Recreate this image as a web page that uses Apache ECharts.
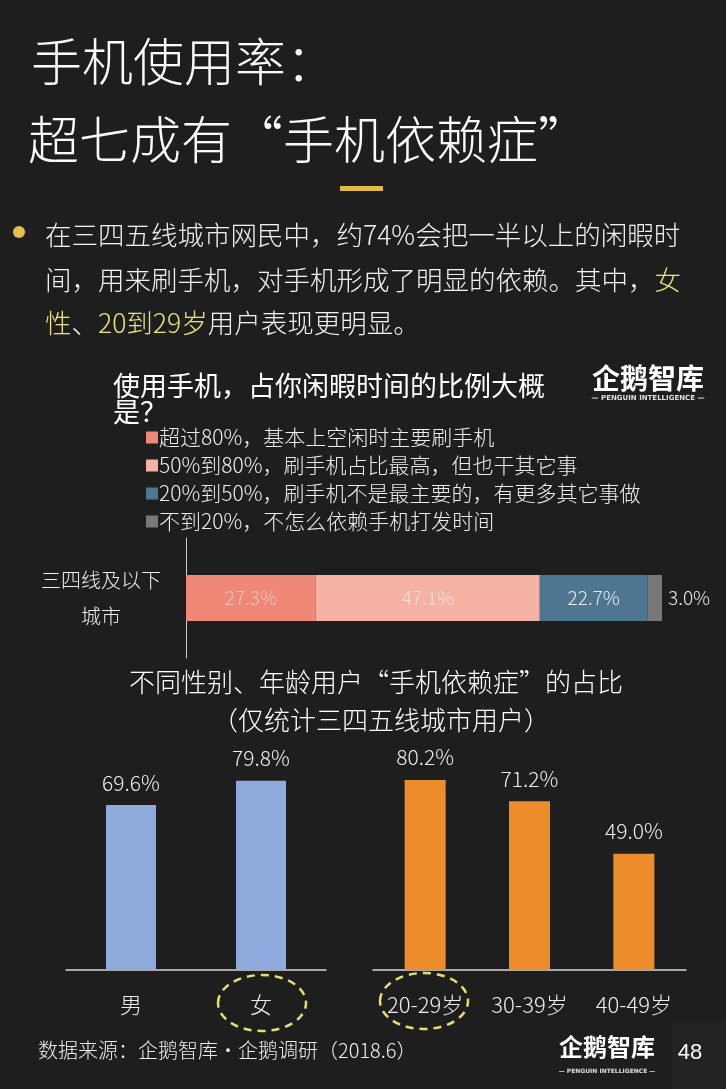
<!DOCTYPE html>
<html>
<head>
<meta charset="utf-8">
<title>手机使用率</title>
<script src="https://cdn.jsdelivr.net/npm/echarts@6/dist/echarts.min.js"></script>
<style>
    html, body { margin: 0; padding: 0; background: #1e1e1e; }
    #main { width: 726px; height: 1089px; }
</style>
</head>
<body>
<div id="main"></div>
<script>
    // 闲暇时间占比（堆叠条）
    var shareCategory = ["三四线及以下\n城市"];
    var shareNames = [
        "超过80%，基本上空闲时主要刷手机",
        "50%到80%，刷手机占比最高，但也干其它事",
        "20%到50%，刷手机不是最主要的，有更多其它事做",
        "不到20%，不怎么依赖手机打发时间"
    ];
    var shareValues = [27.3, 47.1, 22.7, 3.0];
    var shareColors = ["#f08878", "#f6b1a5", "#4e7691", "#787878"];
    var shareLabelColors = ["#f9c6ba", "#fbe0d8", "#e4eef5", "#e8e8e8"];

    // 手机依赖症占比
    var genderCategories = ["男", "女"];
    var genderValues = [69.6, 79.8];
    var ageCategories = ["20-29岁", "30-39岁", "40-49岁"];
    var ageValues = [80.2, 71.2, 49.0];

    var FONT = "Noto Sans CJK SC";
    var TXT = "#eeeeee";

    var chart = echarts.init(document.getElementById("main"));

    var shareTotal = 0;
    for (var i = 0; i < shareValues.length; i++) {
        shareTotal += shareValues[i];
    }

    var series = [];
    for (var k = 0; k < shareNames.length; k++) {
        series.push({
            name: shareNames[k],
            type: "bar",
            stack: "share",
            xAxisIndex: 0,
            yAxisIndex: 0,
            barWidth: 46,
            data: [shareValues[k]],
            itemStyle: {color: shareColors[k]},
            label: {
                show: true,
                position: k === shareNames.length - 1 ? "right" : "inside",
                distance: 6,
                color: shareLabelColors[k],
                fontSize: 19,
                fontFamily: FONT,
                fontWeight: 300,
                formatter: function (p) {
                    return p.value.toFixed(1) + "%";
                }
            }
        });
    }

    function dependBar(name, idx, values, color, width) {
        return {
            name: name,
            type: "bar",
            xAxisIndex: idx,
            yAxisIndex: idx,
            barWidth: width,
            data: values,
            itemStyle: {color: color},
            label: {
                show: true,
                position: "top",
                distance: 12,
                color: TXT,
                fontSize: 21,
                fontFamily: FONT,
                fontWeight: 300,
                formatter: function (p) {
                    return p.value.toFixed(1) + "%";
                }
            }
        };
    }
    series.push(dependBar("性别", 1, genderValues, "#8faadc", 50));
    series.push(dependBar("年龄", 2, ageValues, "#ed8c2b", 41));

    function catAxis(idx, data) {
        return {
            type: "category",
            gridIndex: idx,
            data: data,
            axisLine: {lineStyle: {color: "#d8d8d8", width: 1.5}},
            axisTick: {show: false},
            axisLabel: {color: TXT, fontSize: 22, fontFamily: FONT, fontWeight: 300, margin: 24}
        };
    }

    function valAxis(idx) {
        return {type: "value", gridIndex: idx, min: 0, max: 100, show: false, splitLine: {show: false}};
    }

    var option = {
        backgroundColor: "#1e1e1e",
        animation: false,
        legend: {
            data: shareNames,
            orient: "vertical",
            left: 141,
            top: 422,
            icon: "rect",
            itemWidth: 12,
            itemHeight: 12,
            itemGap: 7,
            selectedMode: false,
            textStyle: {color: TXT, fontSize: 21, lineHeight: 21, fontFamily: FONT, fontWeight: 300, padding: [0, 0, 0, -4]}
        },
        grid: [
            {left: 186, right: 64, top: 538, height: 120},
            {left: 66, width: 260, top: 733, height: 237},
            {left: 373, width: 313, top: 733, height: 237}
        ],
        xAxis: [
            {type: "value", gridIndex: 0, min: 0, max: shareTotal, show: false, splitLine: {show: false}},
            catAxis(1, genderCategories),
            catAxis(2, ageCategories)
        ],
        yAxis: [
            {
                type: "category",
                gridIndex: 0,
                data: shareCategory,
                axisLine: {lineStyle: {color: "#d0d0d0", width: 1}},
                axisTick: {show: false},
                axisLabel: {
                    color: TXT, fontSize: 20, lineHeight: 36, fontFamily: FONT, fontWeight: 300,
                    align: "center", margin: 85
                }
            },
            valAxis(1),
            valAxis(2)
        ],
        series: series,
        graphic: [
            // 大标题
            {type: "text", x: 31, y: 62, style: {text: "手机使用率：", fill: "#fafafa", fontSize: 51, fontFamily: FONT, fontWeight: 300, verticalAlign: "middle"}},
            {type: "text", x: 28, y: 140, style: {text: "超七成有“手机依赖症”", fill: "#fafafa", fontSize: 51, fontFamily: FONT, fontWeight: 300, verticalAlign: "middle"}},
            {type: "rect", shape: {x: 340, y: 186, width: 43, height: 5}, style: {fill: "#e2bb45"}},
            // 要点
            {type: "circle", shape: {cx: 19, cy: 232, r: 6}, style: {fill: "#e6c04a"}},
            {type: "text", x: 45, y: 235, style: {text: "在三四五线城市网民中，约74%会把一半以上的闲暇时", fill: "#f2f2f2", fontSize: 26.5, fontFamily: FONT, fontWeight: 300, verticalAlign: "middle"}},
            {type: "text", x: 45, y: 280, style: {
                text: "间，用来刷手机，对手机形成了明显的依赖。其中，{y|女}",
                fill: "#f2f2f2", fontSize: 26.5, fontFamily: FONT, fontWeight: 300, verticalAlign: "middle",
                rich: {y: {fill: "#e8e27c", fontSize: 26.5, fontFamily: FONT, fontWeight: 300}}
            }},
            {type: "text", x: 45, y: 323, style: {
                text: "{y|性}、{y|20到29岁}用户表现更明显。",
                fill: "#f2f2f2", fontSize: 26.5, fontFamily: FONT, fontWeight: 300, verticalAlign: "middle",
                rich: {y: {fill: "#e8e27c", fontSize: 26.5, fontFamily: FONT, fontWeight: 300}}
            }},
            // logo
            {type: "text", x: 648, y: 378, style: {text: "企鹅智库", fill: "#ffffff", fontSize: 28, fontWeight: "bold", fontFamily: FONT, align: "center", verticalAlign: "middle"}},
            {type: "text", x: 648, y: 398, style: {text: "— PENGUIN INTELLIGENCE —", fill: "#e0e0e0", fontSize: 7, fontWeight: "bold", fontFamily: "DejaVu Sans", align: "center", verticalAlign: "middle"}},
            // 图一标题
            {type: "text", x: 113, y: 386, style: {text: "使用手机，占你闲暇时间的比例大概", fill: "#ffffff", fontSize: 27, fontFamily: FONT, verticalAlign: "middle"}},
            {type: "text", x: 113, y: 412, style: {text: "是？", fill: "#ffffff", fontSize: 27, fontFamily: FONT, verticalAlign: "middle"}},
            // 图二标题
            {type: "text", x: 376, y: 682, style: {text: "不同性别、年龄用户“手机依赖症”的占比", fill: "#ffffff", fontSize: 26, fontFamily: FONT, fontWeight: 300, align: "center", verticalAlign: "middle"}},
            {type: "text", x: 381, y: 720, style: {text: "（仅统计三四五线城市用户）", fill: "#ffffff", fontSize: 26, fontFamily: FONT, fontWeight: 300, align: "center", verticalAlign: "middle"}},
            // 虚线圈
            {type: "ellipse", shape: {cx: 262, cy: 1003, rx: 44, ry: 28}, style: {fill: null, stroke: "#e4e06a", lineWidth: 2.5, lineDash: [8, 6]}},
            {type: "ellipse", shape: {cx: 424, cy: 1001, rx: 44, ry: 28}, style: {fill: null, stroke: "#e4e06a", lineWidth: 2.5, lineDash: [8, 6]}},
            // 底部
            {type: "text", x: 38, y: 1050, style: {text: "数据来源：企鹅智库·企鹅调研（2018.6）", fill: TXT, fontSize: 20, fontFamily: FONT, fontWeight: 300, verticalAlign: "middle"}},
            {type: "rect", shape: {x: 672, y: 1022, width: 54, height: 67}, style: {fill: "#232323"}},
            {type: "text", x: 607, y: 1047, style: {text: "企鹅智库", fill: "#ffffff", fontSize: 24, fontWeight: "bold", fontFamily: FONT, align: "center", verticalAlign: "middle"}},
            {type: "text", x: 607, y: 1071, style: {text: "— PENGUIN INTELLIGENCE —", fill: "#e0e0e0", fontSize: 6, fontWeight: "bold", fontFamily: "DejaVu Sans", align: "center", verticalAlign: "middle"}},
            {type: "text", x: 690, y: 1053, style: {text: "48", fill: "#ffffff", fontSize: 22, fontFamily: "Liberation Sans", align: "center", verticalAlign: "middle"}}
        ]
    };

    chart.setOption(option);
</script>
</body>
</html>
